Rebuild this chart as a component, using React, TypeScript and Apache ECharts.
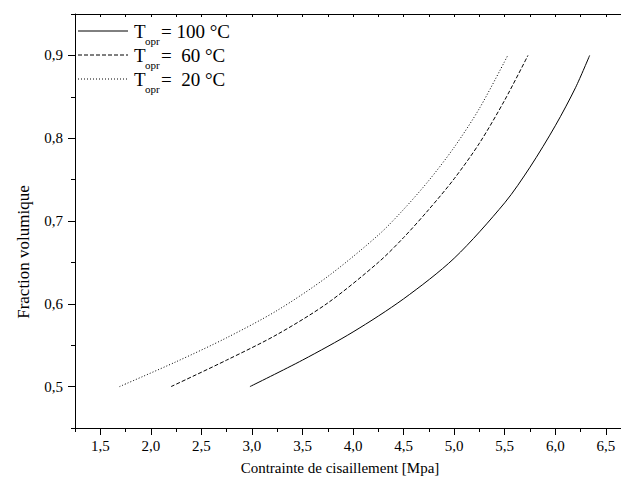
import React, { useEffect, useRef } from "react";
import * as echarts from "echarts";

// 100 °C (solid)
const x100 = [2.98, 3.5, 4.0, 4.5, 5.0, 5.5, 5.75, 6.0, 6.2, 6.34];
const y100 = [0.5, 0.532, 0.566, 0.606, 0.655, 0.722, 0.765, 0.815, 0.861, 0.9];
// 60 °C (dashed)
const x60 = [2.2, 2.75, 3.25, 3.75, 4.25, 4.5, 4.75, 5.0, 5.25, 5.5, 5.73];
const y60 = [0.5, 0.532, 0.563, 0.601, 0.65, 0.68, 0.714, 0.751, 0.794, 0.846, 0.9];
// 20 °C (dotted)
const x20 = [1.69, 2.25, 2.75, 3.25, 3.75, 4.25, 4.5, 4.75, 5.0, 5.25, 5.53];
const y20 = [0.5, 0.53, 0.559, 0.592, 0.633, 0.683, 0.714, 0.749, 0.789, 0.836, 0.9];

const xMajor = [1.5, 2.0, 2.5, 3.0, 3.5, 4.0, 4.5, 5.0, 5.5, 6.0, 6.5];
const xMinor = [1.25, 1.75, 2.25, 2.75, 3.25, 3.75, 4.25, 4.75, 5.25, 5.75, 6.25];
const yMajor = [0.5, 0.6, 0.7, 0.8, 0.9];
const yMinor = [0.45, 0.55, 0.65, 0.75, 0.85, 0.95];

const legendValues = ["= 100 °C", "=  60 °C", "=  20 °C"];
const xTitle = "Contrainte de cisaillement [Mpa]";
const yTitle = "Fraction volumique";

const FONT = "Liberation Serif";

const zip = (xs: number[], ys: number[]) => xs.map((x, i) => [x, ys[i]]);
const comma = (v: number) => v.toFixed(1).replace(".", ",");

export default function App() {
  const ref = useRef<HTMLDivElement>(null);
  useEffect(() => {
    document.body.style.margin = "0";
    const chart = echarts.init(ref.current!, null, { renderer: "svg" });
    const lineStyles: any[] = ["solid", [4, 2], [1, 2]];
    const seriesData = [zip(x100, y100), zip(x60, y60), zip(x20, y20)];
    const legendGraphics: any[] = [];
    legendValues.forEach((val, i) => {
      const cy = 31 + i * 24;
      legendGraphics.push({
        type: "line",
        shape: { x1: 78, y1: cy, x2: 128, y2: cy },
        style: { stroke: "#000", lineWidth: 1, lineDash: lineStyles[i] === "solid" ? null : lineStyles[i] },
      });
      legendGraphics.push({
        type: "text",
        x: 134,
        y: cy,
        style: { text: "T", fontFamily: FONT, fontSize: 19, fill: "#000", verticalAlign: "middle", align: "left" },
      });
      legendGraphics.push({
        type: "text",
        x: 145,
        y: cy + 10,
        style: { text: "opr", fontFamily: FONT, fontSize: 11, fill: "#000", verticalAlign: "middle", align: "left" },
      });
      legendGraphics.push({
        type: "text",
        x: 161,
        y: cy,
        style: { text: val, fontFamily: FONT, fontSize: 19, fill: "#000", verticalAlign: "middle", align: "left" },
      });
    });
    const axisLine = { show: true, lineStyle: { color: "#000", width: 1 } };
    chart.setOption({
      animation: false,
      grid: { left: 75, top: 14, right: 0, bottom: 62 },
      xAxis: [
        {
          type: "value", min: 1.25, max: 6.65, position: "bottom",
          axisLine, splitLine: { show: false },
          axisTick: { show: true, customValues: xMajor, length: 7, lineStyle: { color: "#000" } },
          axisLabel: { customValues: xMajor, formatter: comma, fontFamily: FONT, fontSize: 15, color: "#000", margin: 10 },
        },
        {
          type: "value", min: 1.25, max: 6.65, position: "bottom",
          axisLine: { show: false }, splitLine: { show: false },
          axisTick: { show: true, customValues: xMinor, length: 4, lineStyle: { color: "#000" } },
          axisLabel: { show: false },
        },
        {
          type: "value", min: 1.25, max: 6.65, position: "top",
          axisLine, splitLine: { show: false },
          axisTick: { show: true, inside: true, customValues: [...xMajor, ...xMinor], length: 3, lineStyle: { color: "#000" } },
          axisLabel: { show: false },
        },
      ],
      yAxis: [
        {
          type: "value", min: 0.45, max: 0.95, position: "left",
          axisLine, splitLine: { show: false },
          axisTick: { show: true, customValues: yMajor, length: 7, lineStyle: { color: "#000" } },
          axisLabel: { customValues: yMajor, formatter: comma, fontFamily: FONT, fontSize: 15, color: "#000", margin: 12 },
        },
        {
          type: "value", min: 0.45, max: 0.95, position: "left",
          axisLine: { show: false }, splitLine: { show: false },
          axisTick: { show: true, customValues: yMinor, length: 4, lineStyle: { color: "#000" } },
          axisLabel: { show: false },
        },
      ],
      series: seriesData.map((d, i) => ({
        type: "line",
        data: d,
        xAxisIndex: 0,
        yAxisIndex: 0,
        symbol: "none",
        smooth: 0.3,
        lineStyle: { color: "#000", width: 1, type: lineStyles[i] },
      })),
      graphic: [
        ...legendGraphics,
        {
          type: "text", x: 23, y: 252, rotation: Math.PI / 2,
          style: { text: yTitle, fontFamily: FONT, fontSize: 17, fill: "#000", align: "center", verticalAlign: "middle" },
        },
        {
          type: "text", x: 340, y: 468,
          style: { text: xTitle, fontFamily: FONT, fontSize: 15, fill: "#000", align: "center", verticalAlign: "middle" },
        },
      ],
    });
    return () => chart.dispose();
  }, []);
  return <div ref={ref} style={{ width: 621, height: 490 }} />;
}
